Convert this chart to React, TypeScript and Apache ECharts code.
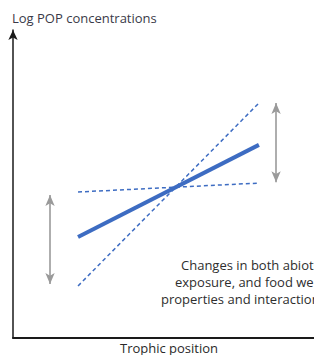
import React, { useEffect, useRef } from "react";
import * as echarts from "echarts";

const trophicX = [21.6, 81.7];
const meanLine = [32.8, 62.7];
const steepLine = [16.9, 76.3];
const flatLine = [47.4, 50.3];
const leftArrow = { x: 12.3, y: [46.4, 17.5] };
const rightArrow = { x: 87.4, y: [76.3, 50.6] };
const yTitle = "Log POP concentrations";
const xTitle = "Trophic position";
const noteLines = ["Changes in both abiotic", "exposure, and food web", "properties and interactions"];
const noteStarts = [181, 175, 161];

const FONT = "'Open Sans', 'Noto Sans', sans-serif";
const BLUE = "#3d6cc2";

export default function App() {
  const ref = useRef<HTMLDivElement>(null);
  useEffect(() => {
    if (!ref.current) return;
    const chart = echarts.init(ref.current, null, { renderer: "svg" });
    const arrowSeries = (a: { x: number; y: number[] }) => ({
      type: "line",
      data: [],
      silent: true,
      markLine: {
        silent: true,
        symbol: ["arrow", "arrow"],
        symbolSize: [7, 11],
        label: { show: false },
        lineStyle: { color: "#9a9a9a", width: 1.6, type: "solid" },
        data: [[{ coord: [a.x, a.y[0]] }, { coord: [a.x, a.y[1]] }]],
      },
    });
    chart.setOption({
      animation: false,
      grid: { left: 13, right: 0, top: 30, bottom: 17 },
      xAxis: {
        type: "value",
        min: 0,
        max: 100,
        axisLine: { show: true, lineStyle: { color: "#1a1a1a", width: 2 } },
        axisTick: { show: false },
        axisLabel: { show: false },
        splitLine: { show: false },
      },
      yAxis: {
        type: "value",
        min: 0,
        max: 100,
        axisLine: {
          show: true,
          symbol: ["none", "arrow"],
          symbolSize: [7, 10],
          lineStyle: { color: "#1a1a1a", width: 1.5 },
        },
        axisTick: { show: false },
        axisLabel: { show: false },
        splitLine: { show: false },
      },
      graphic: [
        {
          type: "text",
          x: 12,
          y: 18,
          style: { text: yTitle, font: `13px ${FONT}`, fill: "#3a3a48", textVerticalAlign: "middle" },
        },
        {
          type: "text",
          x: 169,
          y: 348,
          style: { text: xTitle, font: `13px ${FONT}`, fill: "#2a2a2a", textAlign: "center", textVerticalAlign: "middle" },
        },
        ...noteLines.map((t, i) => ({
          type: "text",
          x: noteStarts[i],
          y: 265 + i * 17,
          style: { text: t, font: `13px ${FONT}`, fill: "#2e2e2e", textAlign: "left", textVerticalAlign: "middle" },
        })),
      ],
      series: [
        {
          type: "line",
          data: trophicX.map((x, i) => [x, steepLine[i]]),
          symbol: "none",
          lineStyle: { color: BLUE, width: 1.5, type: [4, 3] },
        },
        {
          type: "line",
          data: trophicX.map((x, i) => [x, flatLine[i]]),
          symbol: "none",
          lineStyle: { color: BLUE, width: 1.5, type: [4, 3] },
        },
        {
          type: "line",
          data: trophicX.map((x, i) => [x, meanLine[i]]),
          symbol: "none",
          lineStyle: { color: BLUE, width: 4 },
        },
        arrowSeries(leftArrow),
        arrowSeries(rightArrow),
      ],
    });
    return () => chart.dispose();
  }, []);
  return <div ref={ref} style={{ width: 314, height: 355, position: "absolute", left: 0, top: 0 }} />;
}
